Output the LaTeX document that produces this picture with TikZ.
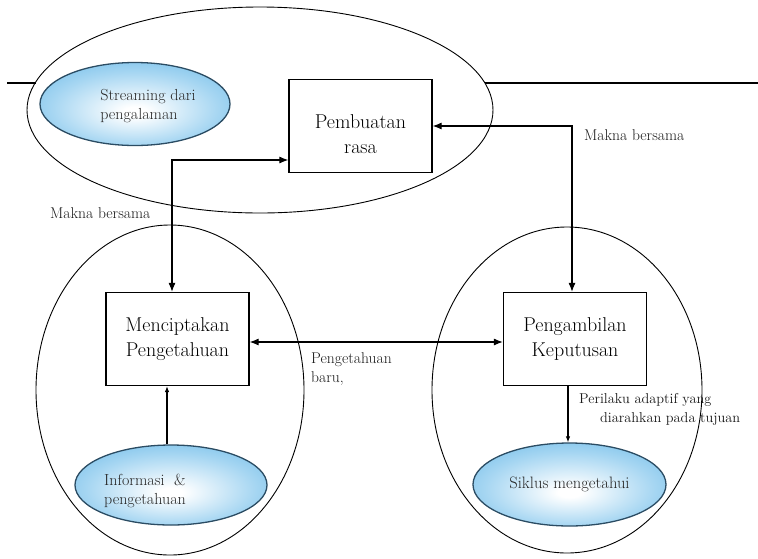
\documentclass[tikz,border=0pt]{standalone}
\usetikzlibrary{shapes.geometric,arrows.meta}

\definecolor{blobmid}{HTML}{A6D6F2}
\definecolor{blobout}{HTML}{42A6E0}
\definecolor{blobline}{HTML}{2B4C63}
\pgfdeclareradialshading{blobshade}{\pgfpoint{0bp}{-5bp}}{color(0bp)=(white); color(3bp)=(white); color(22bp)=(blobmid); color(46bp)=(blobout); color(50bp)=(blobout)}

\tikzset{
    zone/.style={ellipse, draw, line width=0.9pt, inner sep=0pt},
    blob/.style={ellipse, draw=blobline, line width=1.3pt, shading=blobshade, inner sep=0pt},
    boxnode/.style={draw, line width=1.2pt, minimum width=143pt, minimum height=93pt,
        align=center, font=\fontsize{20}{25}\selectfont},
    lbl/.style={inner sep=0pt, align=left, text=black!90, font=\fontsize{15.6}{19}\selectfont},
    dbl/.style={line width=1.1pt, {Latex[length=9pt,width=7pt]}-{Latex[length=9pt,width=7pt]}},
    one/.style={line width=1.1pt, -{Latex[length=6pt,width=4.5pt]}},
}

\begin{document}
\begin{tikzpicture}[x=1pt, y=-1pt]
        \useasboundingbox (0,0) rectangle (758,558);
        \node[zone, minimum width=466pt, minimum height=206pt] (topzone)   at (260, 110) {};
        \node[zone, minimum width=268pt, minimum height=330pt] (leftzone)  at (170, 390) {};
        \node[zone, minimum width=270pt, minimum height=326pt] (rightzone) at (567, 390) {};

        \coordinate (ruleA) at (7, 83);
        \coordinate (ruleB) at (36, 83);
        \coordinate (ruleC) at (485, 83);
        \coordinate (ruleD) at (758, 83);
        \draw[line width=1.2pt] (ruleA) -- (ruleB);
        \draw[line width=1.2pt] (ruleC) -- (ruleD);

        \node[blob, minimum width=190pt, minimum height=83pt] (stream) at (135, 104) {};
        \node[blob, minimum width=192pt, minimum height=80pt] (info)   at (171, 485) {};
        \node[blob, minimum width=193pt, minimum height=83pt] (siklus) at (569.5, 484.5)
            {\fontsize{16.5}{19}\selectfont\color{black!85}Siklus mengetahui};
        \node[lbl, text=black!85, font=\fontsize{16}{19}\selectfont] (streamtxt) at (148, 106) {Streaming dari\\pengalaman};
        \node[lbl, text=black!85, font=\fontsize{16}{19}\selectfont] (infotxt)   at (145, 491) {Informasi\ \ \&\\pengetahuan};

        \node[boxnode] (pembuatan) at (360.5, 126) {\rule{0pt}{30pt}Pembuatan\\rasa};
        \node[boxnode] (mencipta)  at (177.5, 339) {Menciptakan\\Pengetahuan};
        \node[boxnode] (ambil)     at (575, 339)   {Pengambilan\\Keputusan};

        \draw[dbl] ([xshift=-5.5pt]mencipta.north) |- ([yshift=-34pt]pembuatan.west);
        \draw[dbl] (pembuatan.east) -| ([xshift=-3pt]ambil.north);
        \draw[dbl] ([yshift=-3pt]mencipta.east) -- ([yshift=-3pt]ambil.west);
        \draw[one] ([xshift=-4pt]info.north) -- ([xshift=-10.5pt]mencipta.south);
        \draw[one] ([xshift=-7pt]ambil.south) -- ([xshift=-1.5pt]siklus.north);

        \node[lbl, anchor=base west] (maknaL) at (50, 218) {Makna bersama};
        \node[lbl, anchor=base west] (maknaR) at (584, 140) {Makna bersama};
        \node[lbl, anchor=north west] (baru) at (311, 352) {Pengetahuan\\baru,};
        \node[lbl, anchor=north west, font=\fontsize{14.3}{19}\selectfont] (perilaku) at (579, 393)
            {Perilaku adaptif yang\\\hspace*{21pt}diarahkan pada tujuan};
    \end{tikzpicture}
\end{document}
